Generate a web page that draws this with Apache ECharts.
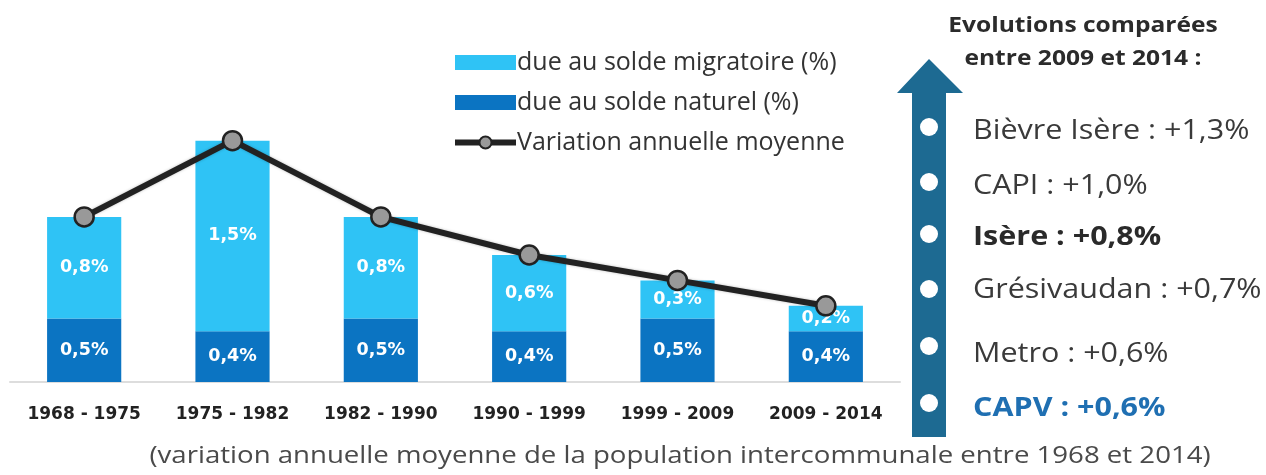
<!DOCTYPE html>
<html>
<head>
<meta charset="utf-8">
<script src="https://cdn.jsdelivr.net/npm/echarts@6/dist/echarts.min.js"></script>
<style>
html,body{margin:0;padding:0;background:#fff;}
#chart{width:1266px;height:475px;}
</style>
</head>
<body>
<div id="chart"></div>
<script>
const categories = ['1968 - 1975', '1975 - 1982', '1982 - 1990', '1990 - 1999', '1999 - 2009', '2009 - 2014'];
const naturel = [0.5, 0.4, 0.5, 0.4, 0.5, 0.4];
const migratoire = [0.8, 1.5, 0.8, 0.6, 0.3, 0.2];
const variation = [1.3, 1.9, 1.3, 1.0, 0.8, 0.6];
const seriesNames = ['due au solde migratoire (%)', 'due au solde naturel (%)', 'Variation annuelle moyenne'];
const panelTitle = ['Evolutions comparées', 'entre 2009 et 2014 :'];
const panelNames = ['Bièvre Isère', 'CAPI', 'Isère', 'Grésivaudan', 'Metro', 'CAPV'];
const panelValues = ['+1,3%', '+1,0%', '+0,8%', '+0,7%', '+0,6%', '+0,6%'];
const footnote = '(variation annuelle moyenne de la population intercommunale entre 1968 et 2014)';

const fmt = v => v.toFixed(1).replace('.', ',') + '%';

const chart = echarts.init(document.getElementById('chart'), null, {renderer: 'canvas'});

const panelY = [131, 186, 237, 290, 354, 408];
const circleY = [127, 182, 234, 289, 346, 403];
const panelStyles = [
  {w: 'normal', c: '#3a3a3a'},
  {w: 'normal', c: '#3a3a3a'},
  {w: 'bold', c: '#2a2a2a'},
  {w: 'normal', c: '#3a3a3a'},
  {w: 'normal', c: '#3a3a3a'},
  {w: 'bold', c: '#1f6fb2'}
];

const graphics = [];
// arrow
graphics.push({
  type: 'polygon',
  shape: {points: [[912, 437], [912, 93], [897, 93], [929, 59], [963, 93], [946, 93], [946, 437]]},
  style: {fill: '#1d6a92'}
});
circleY.forEach(y => {
  graphics.push({type: 'circle', shape: {cx: 929, cy: y, r: 9}, style: {fill: '#ffffff'}});
});
panelNames.forEach((n, i) => {
  graphics.push({
    type: 'text', x: 973, y: panelY[i], scaleX: 1.13,
    style: {text: n + ' : ' + panelValues[i], fontFamily: 'Open Sans', fontSize: 27, fontWeight: panelStyles[i].w, fill: panelStyles[i].c, align: 'left', verticalAlign: 'middle'}
  });
});
panelTitle.forEach((t, i) => {
  graphics.push({
    type: 'text', x: 1083, y: [26, 59][i], scaleX: 1.17,
    style: {text: t, fontFamily: 'Open Sans', fontSize: 21, fontWeight: 'bold', fill: '#2b2b2b', align: 'center', verticalAlign: 'middle'}
  });
});
graphics.push({
  type: 'text', x: 680, y: 456, scaleX: 1.15,
  style: {text: footnote, fontFamily: 'Open Sans', fontSize: 24, fill: '#4a4a4a', align: 'center', verticalAlign: 'middle'}
});

const option = {
  backgroundColor: '#ffffff',
  animation: false,
  grid: {left: 10, right: 366, top: 128, bottom: 93, containLabel: false},
  legend: {
    orient: 'vertical', left: 447, top: 45,
    itemWidth: 61, itemHeight: 15, itemGap: 15,
    data: [
      {name: seriesNames[0], icon: 'rect'},
      {name: seriesNames[1], icon: 'rect'},
      {name: seriesNames[2], lineStyle: {width: 6, color: '#222'}}
    ],
    textStyle: {fontFamily: 'Open Sans', fontSize: 25, color: '#333', padding: [0, 0, 0, -4]}
  },
  xAxis: {
    type: 'category', data: categories,
    axisLine: {show: true, lineStyle: {color: '#dddddd', width: 2}},
    axisTick: {show: false},
    axisLabel: {fontFamily: 'DejaVu Sans', fontWeight: 'bold', fontSize: 17, color: '#222', margin: 24}
  },
  yAxis: {type: 'value', min: 0, max: 2, show: false, splitLine: {show: false}},
  series: [
    {
      name: seriesNames[1], type: 'bar', stack: 'tot', data: naturel, barWidth: '50%',
      itemStyle: {color: '#0b74c2'},
      label: {show: true, position: 'inside', formatter: p => fmt(p.value), fontFamily: 'DejaVu Sans', fontWeight: 'bold', fontSize: 17.5, color: '#fff'}
    },
    {
      name: seriesNames[0], type: 'bar', stack: 'tot', data: migratoire, barWidth: '50%',
      itemStyle: {color: '#2fc3f5'},
      label: {show: true, position: 'inside', formatter: p => fmt(p.value), fontFamily: 'DejaVu Sans', fontWeight: 'bold', fontSize: 17.5, color: '#fff'}
    },
    {
      name: seriesNames[2], type: 'line', data: variation, z: 5,
      symbol: 'circle', symbolSize: 19,
      lineStyle: {color: '#222', width: 6, shadowColor: 'rgba(0,0,0,0.25)', shadowBlur: 3},
      itemStyle: {color: '#999999', borderColor: '#222', borderWidth: 2.5}
    }
  ],
  graphic: graphics
};
chart.setOption(option);
</script>
</body>
</html>
